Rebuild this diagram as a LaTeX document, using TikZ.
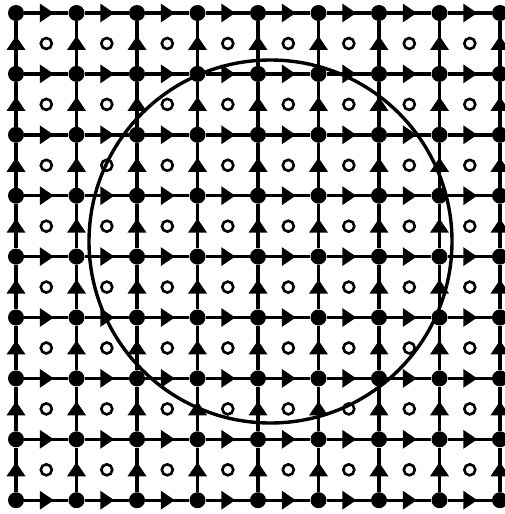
\documentclass[tikz,border=0pt]{standalone}
\usetikzlibrary{decorations.markings}
\tikzset{
  site/.style={circle, fill=black, inner sep=0pt, minimum size=16pt},
  plaquette/.style={circle, draw, line width=2.6pt, inner sep=0pt, minimum size=11pt},
  link/.style={
    line width=3.4pt,
    postaction={decorate},
    decoration={markings,
      mark=at position 0.5 with {\fill (-6.5pt,-9.5pt) -- (7.5pt,0pt) -- (-6.5pt,9.5pt) -- cycle;}}
  },
  ring/.style={circle, draw, line width=3.4pt, inner sep=0pt, minimum size=363pt}
}

\begin{document}
\begin{tikzpicture}[x=1pt,y=-1pt]
  \useasboundingbox (0,0) rectangle (505,514);
  % lattice sites
  \foreach \i in {0,...,8}
    \foreach \j in {0,...,8}
      \node[site] (s-\i-\j) at ({16+60.5*\i},{13+60.9*\j}) {};
  % plaquette centres
  \foreach \i in {0,...,7}
    \foreach \j in {0,...,7}
      \node[plaquette] (p-\i-\j) at ({46.3+60.5*\i},{43.5+60.9*\j}) {};
  % horizontal links, pointing right
  \foreach \i in {0,...,7}
    \foreach \j in {0,...,8} {
      \pgfmathtruncatemacro\k{\i+1}
      \draw[link] (s-\i-\j) -- (s-\k-\j);
    }
  % vertical links, pointing up
  \foreach \i in {0,...,8}
    \foreach \j in {0,...,7} {
      \pgfmathtruncatemacro\k{\j+1}
      \draw[link] (s-\i-\k) -- (s-\i-\j);
    }
  \node[ring] (loop) at (270.5,241.5) {};
\end{tikzpicture}
\end{document}
